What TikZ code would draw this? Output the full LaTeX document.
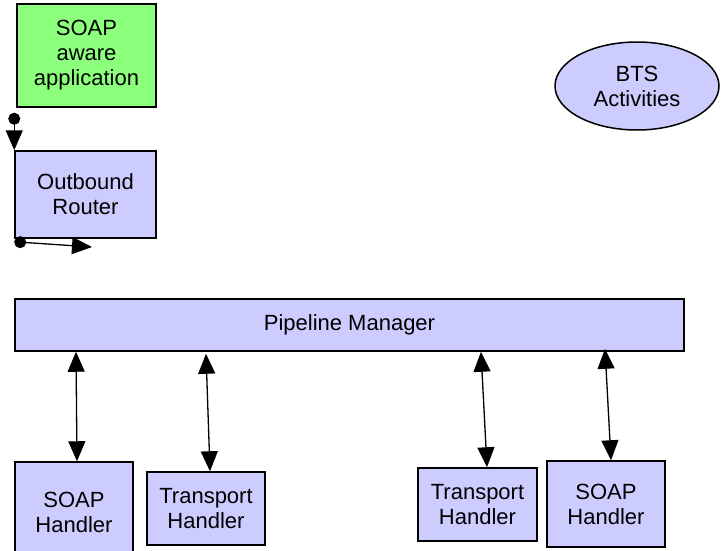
\documentclass[tikz,border=0pt]{standalone}
\usepackage{fontspec}
\setmainfont{Liberation Sans}
\usetikzlibrary{arrows.meta,shapes.geometric,calc}

\definecolor{appgreen}{RGB}{140,255,125}
\definecolor{boxblue}{RGB}{204,204,255}

\begin{document}
\begin{tikzpicture}[x=1pt, y=-1pt,
  box/.style={rectangle, draw, line width=1.5pt, fill=boxblue,
              align=center, inner sep=0pt,
              font=\fontsize{22}{25}\selectfont},
  biarrow/.style={{Triangle[length=20pt,width=17pt]}-{Triangle[length=20pt,width=17pt]},
                  line width=1.3pt},
  dotarrow/.style={{Circle[length=12pt]}-{Triangle[length=20pt,width=17pt]},
                   line width=1.3pt}]

\useasboundingbox (0,0) rectangle (721,550);

\node[box, fill=appgreen, minimum width=139pt, minimum height=103pt]
(app) at (86.5,55.5) {SOAP\\aware\\application};

\node[box, minimum width=141pt, minimum height=87pt]
(router) at (85.5,194.5) {Outbound\\Router};

\node[box, ellipse, minimum width=164pt, minimum height=88pt]
(bts) at (637,86) {BTS\\Activities};

\node[box, minimum width=669pt, minimum height=52pt]
(pipe) at (349.5,325) {Pipeline Manager};

\node[box, minimum width=118pt, minimum height=100pt]
(soapA) at (74,512) {SOAP\\Handler};
\node[box, minimum width=118pt, minimum height=73pt]
(transA) at (206,508.5) {Transport\\Handler};
\node[box, minimum width=119pt, minimum height=73pt]
(transB) at (477.5,504.5) {Transport\\Handler};
\node[box, minimum width=118pt, minimum height=86pt]
(soapB) at (606,504) {SOAP\\Handler};

\coordinate (routerout) at (92,247);

\draw[dotarrow] ($(app.south west)+(-2,5)$) -- (router.north west);
\draw[dotarrow] ($(router.south west)+(0,3)$) -- (routerout);

\draw[biarrow] ($(soapA.north |- pipe.south)+(2,0)$) -- ($(soapA.north)+(3,0)$);
\draw[biarrow] ($(transA.north |- pipe.south)+(0,2)$) -- ($(transA.north)+(4,0)$);
\draw[biarrow] ($(transB.north |- pipe.south)+(3.5,0)$) -- ($(transB.north)+(9.5,0)$);
\draw[biarrow] ($(soapB.north |- pipe.south)+(-1,-3)$) -- ($(soapB.north)+(5,0)$);

\end{tikzpicture}
\end{document}
